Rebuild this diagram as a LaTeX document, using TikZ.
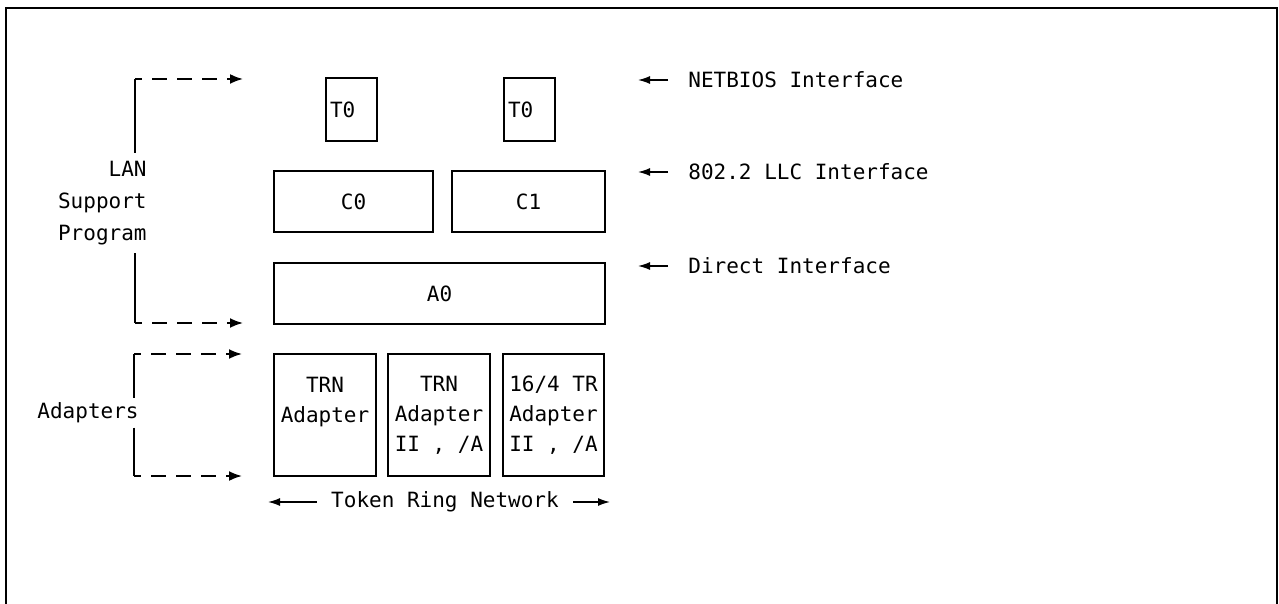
\documentclass[tikz,border=0pt]{standalone}
\usepackage{fontspec}
\setmonofont{DejaVu Sans Mono}
\usetikzlibrary{arrows.meta,positioning}
\tikzset{
  box/.style={draw,line width=0.9pt,inner sep=0pt,align=center},
  tbox/.style={box,minimum width=25.5pt,minimum height=31.5pt,inner xsep=2pt,text width=21.5pt,align=left},
  abox/.style={box,minimum height=61pt},
  dashline/.style={line width=0.9pt,dash pattern=on 7.5pt off 5pt,dash phase=4pt,-{Latex[length=6.5pt,width=5pt]}},
  ptr/.style={line width=0.7pt,-{Latex[length=6pt,width=4pt]}},
  side/.style={anchor=west,inner xsep=10pt,inner ysep=0pt},
}
\begin{document}
\begin{tikzpicture}[x=0.5pt,y=-0.5pt,font=\ttfamily\fontsize{10.5}{15}\selectfont]
	\useasboundingbox (0,0) rectangle (1279,604);
	% frame, open at the bottom
	\coordinate (fbl) at (6,604);
	\coordinate (ftr) at (1277,8);
	\coordinate (fbr) at (1277,604);
	\draw[line width=1pt] (fbl) |- (ftr) -- (fbr);
	% layers
	\node[tbox] (t0a) at (351.5,109.5) {T0};
	\node[tbox] (t0b) at (529.5,109.5) {T0};
	\node[box,minimum width=79.5pt,minimum height=30.5pt] (c0) at (353.5,201.5) {C0};
	\node[box,minimum width=76.5pt,minimum height=30.5pt] (c1) at (528.5,201.5) {C1};
	\node[box,minimum width=165.5pt,minimum height=30.5pt] (a0) at (439.5,293.5) {A0};
	\node[abox,minimum width=51pt] (ad1) at (325,415) {TRN\\Adapter\\\phantom{II}};
	\node[abox,minimum width=51pt] (ad2) at (439,415) {TRN\\Adapter\\II , /A};
	\node[abox,minimum width=50.5pt] (ad3) at (553.5,415) {16/4 TR\\Adapter\\II , /A};
	% interfaces
	\node[side] (netb) at (668,80) {NETBIOS Interface};
	\node[side] (llc) at (668,172) {802.2 LLC Interface};
	\node[side] (dir) at (668,266) {Direct Interface};
	\coordinate (pnetb) at (638,80);
	\coordinate (pllc) at (638,172);
	\coordinate (pdir) at (638,266);
	\draw[ptr] (netb.west) -- (pnetb);
	\draw[ptr] (llc.west) -- (pllc);
	\draw[ptr] (dir.west) -- (pdir);
	% network
	\node[inner xsep=7pt] (trn) at (445,502) {Token Ring Network};
	\coordinate (trnl) at (268,502);
	\coordinate (trnr) at (610,502);
	\draw[ptr] (trn.west) -- (trnl);
	\draw[ptr] (trn.east) -- (trnr);
	% brackets
	\node[anchor=east,align=right,inner xsep=0pt,inner ysep=4pt,font=\ttfamily\fontsize{10.5}{16}\selectfont] (lsp) at (147,203) {LAN\\Support\\Program};
	\coordinate (ltop) at (135,79);
	\coordinate (lbot) at (135,323);
	\coordinate (ltopa) at (243,79);
	\coordinate (lbota) at (243,323);
	\draw[line width=0.9pt] (ltop) -- (ltop |- lsp.north);
	\draw[line width=0.9pt] (lbot |- lsp.south) -- (lbot);
	\draw[dashline] (ltop) -- (ltopa);
	\draw[dashline] (lbot) -- (lbota);
	\node[anchor=east,inner xsep=0pt,inner ysep=2pt] (adp) at (139,413) {Adapters};
	\coordinate (atop) at (134,354);
	\coordinate (abot) at (134,476);
	\coordinate (atopa) at (242,354);
	\coordinate (abota) at (242,476);
	\draw[line width=0.9pt] (atop) -- (atop |- adp.north);
	\draw[line width=0.9pt] (abot |- adp.south) -- (abot);
	\draw[dashline] (atop) -- (atopa);
	\draw[dashline] (abot) -- (abota);
\end{tikzpicture}
\end{document}
